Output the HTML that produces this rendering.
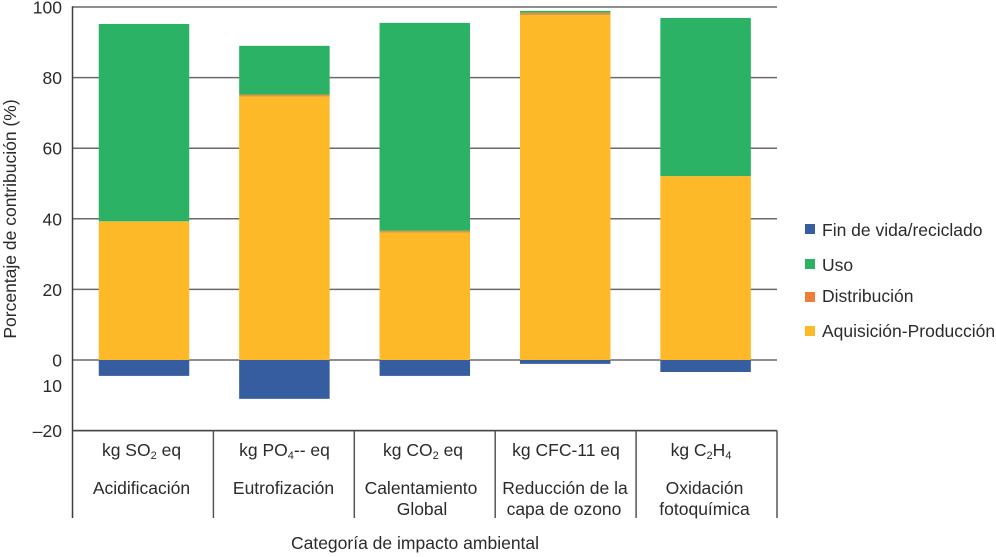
<!DOCTYPE html>
<html lang="es">
<head>
<meta charset="utf-8">
<title>Porcentaje de contribución por categoría de impacto ambiental</title>
<style>
  html, body { margin: 0; padding: 0; background: #fff; }
  svg { display: block; }
  text { font-family: "Liberation Sans", Arial, sans-serif; font-size: 17.5px; fill: #2b2b2b; }
</style>
</head>
<body>
<svg id="chart" xmlns="http://www.w3.org/2000/svg" width="996" height="557" viewBox="0 0 996 557">
  <g id="grid"></g>
  <g id="bars"></g>
  <g id="axes"></g>
  <g id="ticks"></g>
  <text transform="translate(16,219) rotate(-90)" text-anchor="middle">Porcentaje de contribución (%)</text>
  <text x="62" y="392" text-anchor="end">10</text>

  <g text-anchor="middle">
    <text x="141.5" y="456">kg SO<tspan font-size="11" dy="3">2</tspan><tspan dy="-3"> eq</tspan></text>
    <text x="284.5" y="456">kg PO<tspan font-size="11" dy="3">4</tspan><tspan dy="-3">-- eq</tspan></text>
    <text x="423" y="456">kg CO<tspan font-size="11" dy="3">2</tspan><tspan dy="-3"> eq</tspan></text>
    <text x="566" y="456">kg CFC-11 eq</text>
    <text x="701" y="456">kg C<tspan font-size="11" dy="3">2</tspan><tspan dy="-3">H</tspan><tspan font-size="11" dy="3">4</tspan></text>

    <text x="141.5" y="494">Acidificación</text>
    <text x="283.5" y="494">Eutrofización</text>
    <text x="421" y="494">Calentamiento</text>
    <text x="422" y="515">Global</text>
    <text x="565" y="494">Reducción de la</text>
    <text x="564" y="515">capa de ozono</text>
    <text x="704.5" y="494">Oxidación</text>
    <text x="704.5" y="515">fotoquímica</text>
  </g>

  <text x="415" y="549" text-anchor="middle">Categoría de impacto ambiental</text>

  <g>
    <g>
      <rect x="805" y="224" width="10" height="10" fill="#365da0"></rect>
      <text x="822" y="236">Fin de vida/reciclado</text>
    </g>
    <g>
      <rect x="805" y="259" width="10" height="10" fill="#2cb264"></rect>
      <text x="822" y="271">Uso</text>
    </g>
    <g>
      <rect x="805" y="292" width="10" height="10" fill="#ed7d37"></rect>
      <text x="822" y="302">Distribución</text>
    </g>
    <g>
      <rect x="805" y="326" width="10" height="10" fill="#fdb927"></rect>
      <text x="822" y="337">Aquisición-Producción</text>
    </g>
  </g>
</svg>
<script>
var categories = ["Acidificación", "Eutrofización", "Calentamiento Global", "Reducción de la capa de ozono", "Oxidación fotoquímica"];
var aquisicionProduccion = [39.2, 74.6, 36.1, 97.7, 52.1];
var distribucion = [0.1, 0.6, 0.5, 0.7, 0];
var uso = [55.9, 13.8, 58.9, 0.5, 44.8];
var finDeVida = [-4.5, -11, -4.5, -1.1, -3.4];
var tickValues = [100, 80, 60, 40, 20, 0, -20];
var tickLabels = ["100", "80", "60", "40", "20", "0", "–20"];

var NS = "http://www.w3.org/2000/svg";
var plotLeft = 72.5, plotRight = 777, zeroY = 360, pxPerUnit = 3.53, barWidth = 90.5;
var firstBarCenter = 144, barPitch = 140.4;

function yScale(v) { return zeroY - v * pxPerUnit; }
function bandWidth() { return (plotRight - plotLeft) / categories.length; }
function xCenter(i) { return firstBarCenter + barPitch * i; }

function make(tag, attrs, parent) {
  var el = document.createElementNS(NS, tag);
  for (var k in attrs) { el.setAttribute(k, attrs[k]); }
  parent.appendChild(el);
  return el;
}

var grid = document.getElementById("grid");
var ticks = document.getElementById("ticks");
var axes = document.getElementById("axes");
var bars = document.getElementById("bars");

tickValues.forEach(function (v, i) {
  var y = yScale(v);
  var line = make("line", { x1: plotLeft, x2: plotRight, y1: y, y2: y, stroke: "#6a6a6a", "stroke-width": 1.5 }, grid);
  
  
  var label = make("text", { x: 62, y: y + 6.5, "text-anchor": "end" }, ticks);
  
  
  label.textContent = tickLabels[i];
});

function drawSegment(i, from, to, color) {
  var top = yScale(Math.max(from, to));
  var bottom = yScale(Math.min(from, to));
  var rect = make("rect", { x: xCenter(i) - barWidth / 2, y: top, width: barWidth, height: bottom - top, fill: color }, bars);
  
  
}

categories.forEach(function (c, i) {
  var a = aquisicionProduccion[i];
  var d = a + distribucion[i];
  var u = d + uso[i];
  drawSegment(i, 0, a, "#fdb927");
  drawSegment(i, a, d, "#e2933a");
  drawSegment(i, d, u, "#2cb264");
  drawSegment(i, 0, finDeVida[i], "#365da0");
});

var yAxis = make("line", { x1: plotLeft, x2: plotLeft, y1: yScale(100) - 0.7, y2: 518, stroke: "#3c3c3c", "stroke-width": 1.5 }, axes);



var tableTop = make("line", { x1: plotLeft, x2: plotRight, y1: yScale(-20), y2: yScale(-20), stroke: "#444", "stroke-width": 1.5 }, axes);



categories.forEach(function (c, i) {
  var x = plotLeft + bandWidth() * (i + 1);
  var divider = make("line", { x1: x, x2: x, y1: yScale(-20), y2: 518, stroke: "#555", "stroke-width": 1.5 }, axes);
  
  
});
</script>
</body>
</html>
